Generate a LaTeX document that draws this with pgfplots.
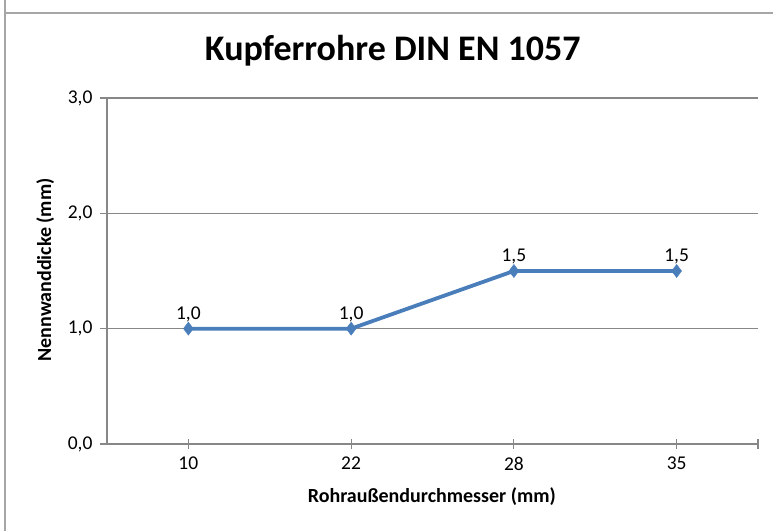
\documentclass[border=0pt]{standalone}
\usepackage{fontspec}
\setmainfont{Carlito}
\usepackage{pgfplots}
\pgfplotsset{compat=1.18}
\definecolor{lineblue}{HTML}{4A7EBB}
\definecolor{gridgray}{HTML}{878787}
\definecolor{framegray}{HTML}{A6A6A6}
\begin{document}
\begin{tikzpicture}[x=1bp,y=1bp]
\useasboundingbox (0,0) rectangle (773,531);
\draw[framegray, line width=1.5bp] (5,531) -- (5,518) -- (773,518);
\draw[framegray, line width=1.5bp] (5,518) -- (5,0);
\begin{axis}[
  at={(107bp,87bp)}, anchor=south west,
  scale only axis, width=651bp, height=346bp,
  xmin=-0.5, xmax=3.5, ymin=0, ymax=3,
  xtick={0,1,2,3,3.5}, xticklabels={10,22,28,35,},
  ytick={0,1,2,3},
  yticklabels={{0,0},{1,0},{2,0},{3,0}},
  axis x line=bottom, axis y line=left,
  axis line style={gridgray, line width=1.2bp, -},
  ymajorgrids, major grid style={gridgray, line width=1.2bp},
  major tick length=7bp,
  xtick style={gridgray, line width=1.2bp},
  ytick style={gridgray, line width=1.2bp},
  x tick style={/pgfplots/major tick length=10bp},
  xtick align=center, ytick align=outside,
  /pgf/number format/assume math mode=true,
  tick label style={font=\fontsize{19.5bp}{22bp}\selectfont, text=black},
  xticklabel style={yshift=-6bp},
  yticklabel style={xshift=-4bp},
  title={\bfseries Kupferrohre DIN EN 1057},
  title style={font=\fontsize{36bp}{42bp}\selectfont, at={(axis description cs:0.439,1.118)}, anchor=center},
  xlabel={\bfseries Rohraußendurchmesser (mm)},
  xlabel style={font=\fontsize{20bp}{24bp}\selectfont, at={(axis description cs:0.499,-0.153)}, anchor=center},
  ylabel={\bfseries Nennwanddicke (mm)},
  ylabel style={font=\fontsize{20bp}{24bp}\selectfont, at={(axis description cs:-0.095,0.503)}, anchor=center, rotate=0},
  clip=false,
  nodes near coords={\pgfmathprintnumber[fixed, fixed zerofill, precision=1, use comma, assume math mode=true]{\pgfplotspointmeta}},
  nodes near coords style={font=\fontsize{19.5bp}{22bp}\selectfont, text=black, anchor=south, yshift=3bp},
]
\addplot[color=lineblue, line width=3.8bp, mark=diamond*, mark size=6.5bp, mark options={fill=lineblue, draw=lineblue, line width=0.5bp}]
  coordinates {(0,1.0) (1,1.0) (2,1.5) (3,1.5)};
\end{axis}
\end{tikzpicture}
\end{document}
